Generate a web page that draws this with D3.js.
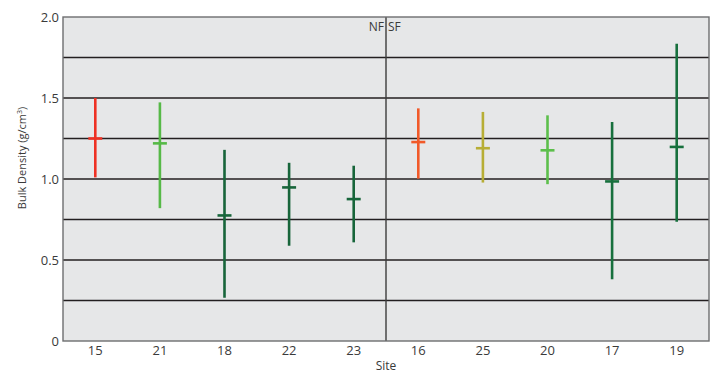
<!DOCTYPE html>
<html>
<head>
<meta charset="utf-8">
<script src="https://cdn.jsdelivr.net/npm/d3@7"></script>
<style>
  body { margin: 0; background: #fff; }
  text { font-family: "Open Sans", "Noto Sans", sans-serif; fill: #3a3a3a; }
</style>
</head>
<body>
<div id="chart"></div>
<script>
// site order along the x axis (NF first five, SF last five)
var sites = ["15", "21", "18", "22", "23", "16", "25", "20", "17", "19"];
var means = [1.25, 1.22, 0.775, 0.948, 0.876, 1.228, 1.19, 1.177, 0.985, 1.198];
var highs = [1.50, 1.473, 1.18, 1.10, 1.082, 1.436, 1.414, 1.393, 1.352, 1.835];
var lows  = [1.01, 0.82, 0.267, 0.588, 0.609, 1.002, 0.978, 0.968, 0.381, 0.736];
var colors = ["#ee3124", "#56b947", "#17653a", "#17653a", "#17653a",
              "#f15a29", "#b7ae35", "#5cbf4b", "#17703d", "#17703d"];
var yTicks = [0, 0.5, 1.0, 1.5, 2.0];
var gridVals = [0.25, 0.5, 0.75, 1.0, 1.25, 1.5, 1.75];

var margin = {top: 17, right: 9, bottom: 33, left: 63};
var width = 718 - margin.left - margin.right,
    height = 374 - margin.top - margin.bottom;

var svg = d3.select("#chart").append("svg")
    .attr("width", 718)
    .attr("height", 374)
    .append("g")
    .attr("transform", "translate(" + margin.left + "," + margin.top + ")");

var x = d3.scaleBand().domain(sites).range([0, width]);
var y = d3.scaleLinear().domain([0, 2]).range([height, 0]);

// panel background
svg.append("rect")
    .attr("width", width)
    .attr("height", height)
    .attr("fill", "#e6e7e8");

// horizontal grid lines
svg.selectAll(".grid")
    .data(gridVals)
    .enter().append("line")
    .attr("class", "grid")
    .attr("x1", 0).attr("x2", width)
    .attr("y1", function(d) { return y(d); })
    .attr("y2", function(d) { return y(d); })
    .attr("stroke", "#231f20")
    .attr("stroke-width", 1.4);

// NF / SF divider
var divX = x("16");
svg.append("line")
    .attr("x1", divX).attr("x2", divX)
    .attr("y1", 0).attr("y2", height)
    .attr("stroke", "#3c3c3c")
    .attr("stroke-width", 1.4);

svg.append("text")
    .attr("x", divX - 2).attr("y", 14)
    .attr("text-anchor", "end")
    .style("font-size", "12px")
    .text("NF");
svg.append("text")
    .attr("x", divX + 2).attr("y", 14)
    .attr("text-anchor", "start")
    .style("font-size", "12px")
    .text("SF");

// frame
svg.append("rect")
    .attr("width", width)
    .attr("height", height)
    .attr("fill", "none")
    .attr("stroke", "#6d6e70")
    .attr("stroke-width", 1.4);

// range bars
var cx = function(i) { return x(sites[i]) + x.bandwidth() / 2; };

svg.selectAll(".range")
    .data(sites)
    .enter().append("line")
    .attr("class", "range")
    .attr("x1", function(d, i) { return cx(i); })
    .attr("x2", function(d, i) { return cx(i); })
    .attr("y1", function(d, i) { return y(highs[i]); })
    .attr("y2", function(d, i) { return y(lows[i]); })
    .attr("stroke", function(d, i) { return colors[i]; })
    .attr("stroke-width", 2.6);

// mean ticks
svg.selectAll(".mean")
    .data(sites)
    .enter().append("line")
    .attr("class", "mean")
    .attr("x1", function(d, i) { return cx(i) - 7; })
    .attr("x2", function(d, i) { return cx(i) + 7; })
    .attr("y1", function(d, i) { return y(means[i]); })
    .attr("y2", function(d, i) { return y(means[i]); })
    .attr("stroke", function(d, i) { return colors[i]; })
    .attr("stroke-width", 2.6);

// axes
var yAxis = d3.axisLeft(y)
    .tickValues(yTicks)
    .tickSize(0)
    .tickPadding(4)
    .tickFormat(function(d) { return d === 0 ? "0" : d3.format(".1f")(d); });

svg.append("g")
    .call(yAxis)
    .call(function(g) { g.select(".domain").remove(); })
    .selectAll("text")
    .style("font-size", "13px")
    .style("fill", "#3a3a3a");

var xAxis = d3.axisBottom(x).tickSize(0).tickPadding(5);
svg.append("g")
    .attr("transform", "translate(0," + height + ")")
    .call(xAxis)
    .call(function(g) { g.select(".domain").remove(); })
    .selectAll("text")
    .style("font-size", "13px")
    .style("fill", "#3a3a3a");

// axis titles
svg.append("text")
    .attr("x", divX)
    .attr("y", height + 29)
    .attr("text-anchor", "middle")
    .style("font-size", "12px")
    .text("Site");

svg.append("text")
    .attr("transform", "translate(" + (-37) + "," + (158 - margin.top) + ") rotate(-90)")
    .attr("text-anchor", "middle")
    .style("font-size", "11px")
    .html("Bulk Density (g/cm<tspan baseline-shift='super' font-size='7px'>3</tspan>)");
</script>
</body>
</html>
